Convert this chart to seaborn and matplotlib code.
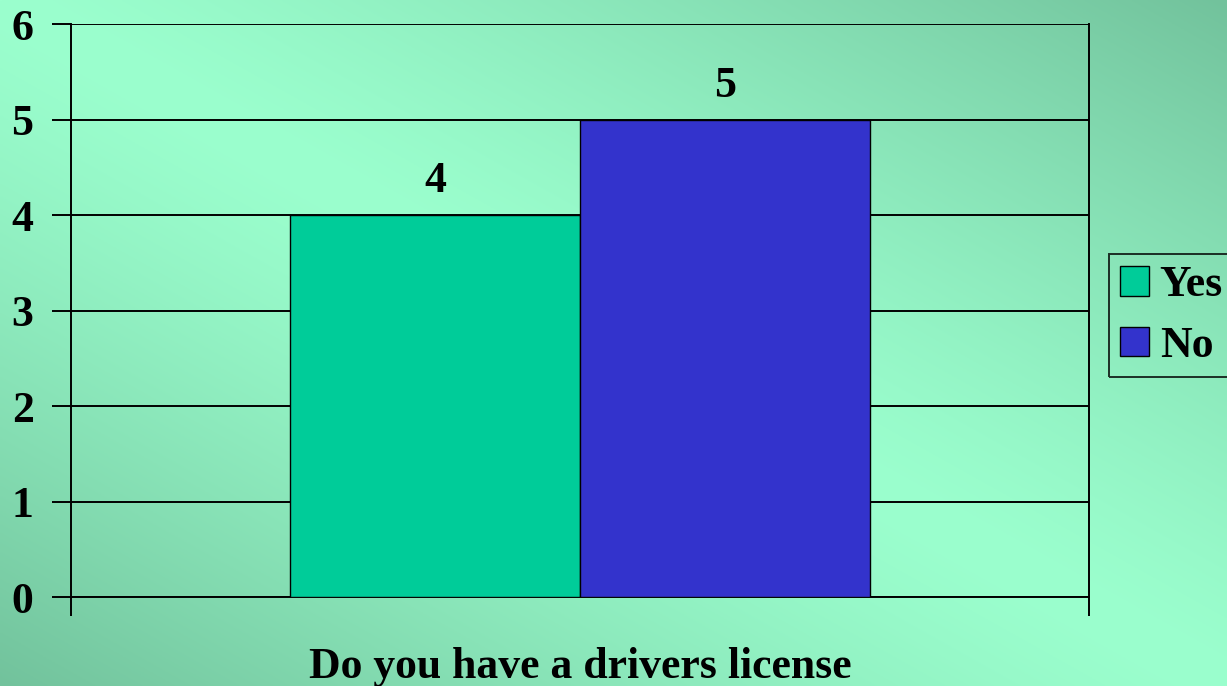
import numpy as np
import pandas as pd
import matplotlib
matplotlib.use("Agg")
import matplotlib.pyplot as plt
import seaborn as sns

question = "Do you have a drivers license"
answers = ["Yes", "No"]
counts = [4, 5]
colors = ["#00cc99", "#3333cc"]
yticks = [0, 1, 2, 3, 4, 5, 6]

df = pd.DataFrame({"question": [question] * len(answers), "answer": answers, "count": counts})

sns.set_style("white")
plt.rcParams["font.family"] = ["Liberation Serif", "DejaVu Serif"]
plt.rcParams["font.weight"] = "bold"
plt.rcParams["text.color"] = "black"
plt.rcParams["xtick.color"] = "black"
plt.rcParams["ytick.color"] = "black"
plt.rcParams["axes.labelcolor"] = "black"

FS = 31.5

fig = plt.figure(figsize=(12.27, 6.86), dpi=100)

# gradient background: light on the main diagonal, darker at the other corners
bg = fig.add_axes([0, 0, 1, 1], zorder=-10)
gx, gy = np.meshgrid(np.linspace(0, 1, 400), np.linspace(0, 1, 400))
t = np.abs(gx - gy) ** 1.3
light = np.array([0x9b, 0xff, 0xce]) / 255
dark = np.array([0x72, 0xc2, 0x9c]) / 255
img = light[None, None, :] * (1 - t[..., None]) + dark[None, None, :] * t[..., None]
bg.imshow(img, aspect="auto", extent=[0, 1, 0, 1], origin="upper")
bg.axis("off")

ax = fig.add_axes([0.0579, 0.1297, 0.8296, 0.8353])
ax.set_facecolor("none")

sns.barplot(data=df, x="question", y="count", hue="answer", palette=colors, saturation=1,
            width=0.57, edgecolor="black", linewidth=1, ax=ax, legend=False, zorder=3)

for cont in ax.containers:
    ax.bar_label(cont, padding=10, fontsize=FS, fontweight="bold", color="black")

ax.set_ylim(0, 6)
ax.set_xlim(-0.5, 0.5)
ax.set_yticks(yticks)
ax.set_yticklabels([str(v) for v in yticks], fontsize=FS, fontweight="bold")
ax.yaxis.grid(True, color="black", linewidth=1.4, zorder=0)
ax.set_axisbelow(True)

ax.set_xticks([-0.5, 0.5])
ax.set_xticklabels(["", ""])
ax.tick_params(axis="both", direction="out", length=14, width=1.4, color="black",
               left=True, bottom=True, pad=13)
ax.set_xlabel(question, fontsize=FS, fontweight="bold")
ax.xaxis.set_label_coords(0.5, -0.088)
ax.set_ylabel("")

for side in ["left", "bottom", "right"]:
    ax.spines[side].set_visible(True)
    ax.spines[side].set_color("black")
    ax.spines[side].set_linewidth(1.4)
ax.spines["top"].set_visible(False)

handles = [plt.Rectangle((0, 0), 1, 1, facecolor=c, edgecolor="black", linewidth=1) for c in colors]
leg = fig.legend(handles, answers, loc="upper left", bbox_to_anchor=(1109 / 1227, 1 - 254 / 686),
                 frameon=True, fancybox=False, edgecolor="black", facecolor="none",
                 prop={"family": "Liberation Serif", "weight": "bold", "size": FS},
                 handlelength=0.65, handleheight=0.65, handletextpad=0.25, labelspacing=0.46,
                 borderpad=0.26, borderaxespad=0)
leg.get_frame().set_linewidth(1.4)

fig.savefig("out.png", dpi=100)
